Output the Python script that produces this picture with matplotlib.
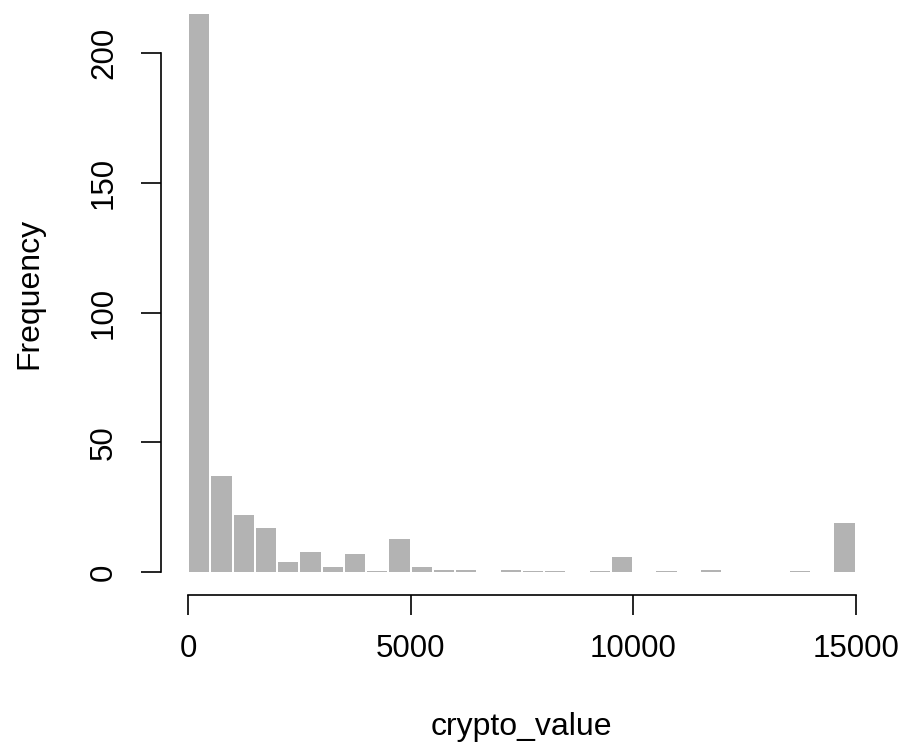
import numpy as np
import matplotlib
matplotlib.use('Agg')
import matplotlib.pyplot as plt

# histogram of crypto_value, breaks every 500
breaks = np.arange(0, 15001, 500)
counts = [215, 37, 22, 17, 4, 8, 2, 7, 0.5, 13,
          2, 1, 1, 0, 1, 0.5, 0.5, 0, 0.5, 6,
          0, 0.5, 0, 1, 0, 0, 0, 0.5, 0, 19]
xticks = [0, 5000, 10000, 15000]
yticks = [0, 50, 100, 150, 200]

plt.rcParams['font.family'] = ['Liberation Sans', 'DejaVu Sans']

W, H = 901, 751
fig = plt.figure(figsize=(W / 100, H / 100), dpi=100)
ax = fig.add_axes([161.3 / W, (H - 594.7) / H, 721.1 / W, 594.7 / H])

gap = 45
ax.bar(breaks[:-1] + gap / 2, counts, width=500 - gap, align='edge',
       color='#b3b3b3', linewidth=0)

ax.set_xlim(-600, 15600)
ax.set_ylim(-8.6, 220.3)

for s in ['top', 'right']:
    ax.spines[s].set_visible(False)
ax.spines['left'].set_bounds(0, 200)
ax.spines['bottom'].set_bounds(0, 15000)
for s in ['left', 'bottom']:
    ax.spines[s].set_linewidth(1.2)

ax.set_xticks(xticks)
ax.set_yticks(yticks)
ax.tick_params(direction='out', length=14.4, width=1.2, labelsize=22.5)
ax.tick_params(axis='x', pad=14)
ax.tick_params(axis='y', pad=16)
for lab in ax.get_yticklabels():
    lab.set_rotation(90)
    lab.set_va('center')

fig.text(521 / W, 1 - 712 / H, 'crypto_value', ha='center', va='top', fontsize=23)
fig.text(29 / W, 1 - 293 / H, 'Frequency', ha='center', va='center',
         rotation=90, fontsize=23)

fig.savefig('out.png', dpi=100)
